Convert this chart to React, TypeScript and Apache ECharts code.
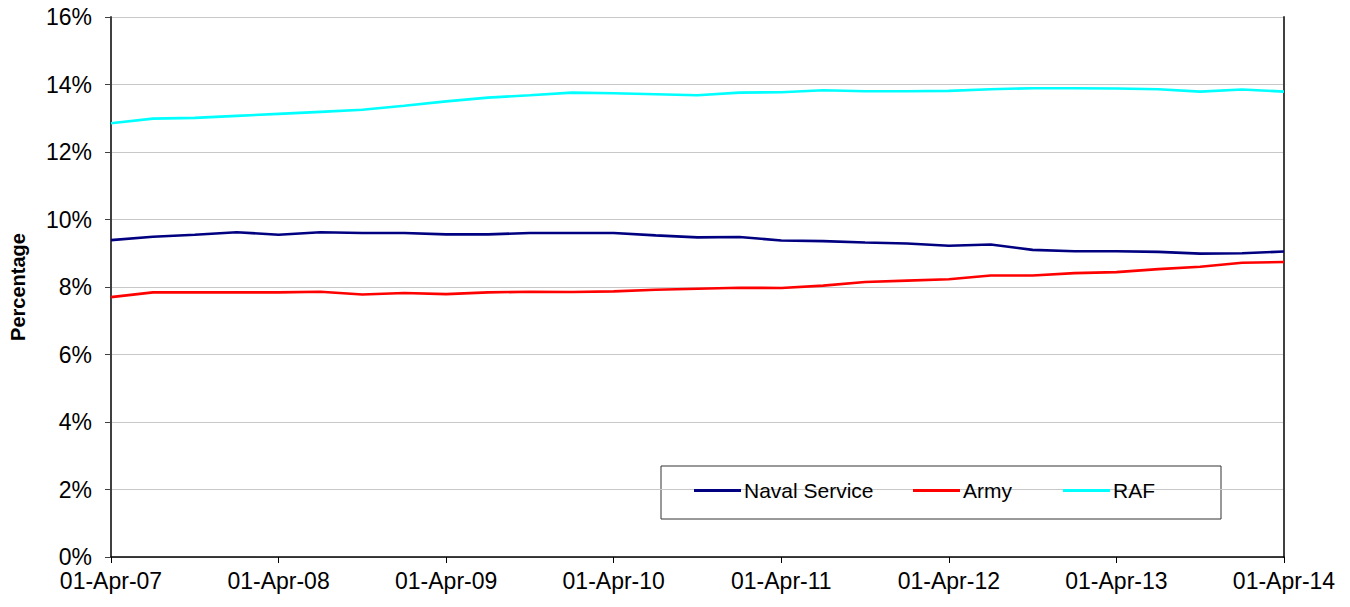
import React, { useEffect, useRef } from "react";
import * as echarts from "echarts";

const quarters = [
  "01-Apr-07", "01-Jul-07", "01-Oct-07", "01-Jan-08",
  "01-Apr-08", "01-Jul-08", "01-Oct-08", "01-Jan-09",
  "01-Apr-09", "01-Jul-09", "01-Oct-09", "01-Jan-10",
  "01-Apr-10", "01-Jul-10", "01-Oct-10", "01-Jan-11",
  "01-Apr-11", "01-Jul-11", "01-Oct-11", "01-Jan-12",
  "01-Apr-12", "01-Jul-12", "01-Oct-12", "01-Jan-13",
  "01-Apr-13", "01-Jul-13", "01-Oct-13", "01-Jan-14",
  "01-Apr-14",
];

const navalService = [
  9.39, 9.49, 9.55, 9.62, 9.55, 9.62, 9.6, 9.6, 9.56, 9.56,
  9.6, 9.6, 9.6, 9.53, 9.47, 9.48, 9.38, 9.36, 9.32, 9.29,
  9.22, 9.26, 9.1, 9.06, 9.06, 9.04, 8.99, 9.0, 9.05,
];

const army = [
  7.7, 7.84, 7.84, 7.84, 7.84, 7.86, 7.78, 7.82, 7.79, 7.84,
  7.86, 7.85, 7.87, 7.92, 7.95, 7.98, 7.97, 8.04, 8.15, 8.19,
  8.23, 8.34, 8.34, 8.41, 8.44, 8.53, 8.6, 8.72, 8.74,
];

const raf = [
  12.85, 12.99, 13.01, 13.07, 13.13, 13.19, 13.25, 13.37, 13.5, 13.61,
  13.68, 13.76, 13.74, 13.71, 13.68, 13.76, 13.77, 13.83, 13.8, 13.8,
  13.81, 13.86, 13.89, 13.89, 13.88, 13.86, 13.79, 13.85, 13.79,
];

const seriesNames = ["Naval Service", "Army", "RAF"];
const seriesColors = ["#000080", "#ff0000", "#00ffff"];

const FONT = "'Liberation Sans', Arial, sans-serif";

export default function App() {
  const ref = useRef<HTMLDivElement>(null);

  useEffect(() => {
    if (!ref.current) return;
    const chart = echarts.init(ref.current, null, { renderer: "svg" });
    const values = [navalService, army, raf];
    const legendLefts = [694, 913, 1063];

    chart.setOption({
      animation: false,
      backgroundColor: "#ffffff",
      textStyle: { fontFamily: FONT },
      grid: { left: 108, right: 66, top: 17, bottom: 50, containLabel: false },
      xAxis: {
        type: "category",
        data: quarters,
        boundaryGap: false,
        axisLine: { show: true, lineStyle: { color: "#000000", width: 1.5 } },
        axisTick: { show: true, interval: 3, length: 6, lineStyle: { color: "#000000" } },
        axisLabel: {
          interval: 3,
          margin: 12,
          fontSize: 23,
          color: "#000000",
          fontFamily: FONT,
        },
        splitLine: { show: false },
      },
      yAxis: [
        {
          type: "value",
          min: 0,
          max: 16,
          interval: 2,
          name: "Percentage",
          nameLocation: "middle",
          nameGap: 83,
          nameRotate: 90,
          nameTextStyle: { fontSize: 20, fontWeight: "bold", color: "#000000", fontFamily: FONT },
          axisLine: { show: true, lineStyle: { color: "#404040", width: 2 } },
          axisTick: { show: true, length: 6, lineStyle: { color: "#404040" } },
          axisLabel: {
            formatter: (v: number) => v + "%",
            margin: 19,
            fontSize: 23,
            color: "#000000",
            fontFamily: FONT,
          },
          splitLine: { show: true, lineStyle: { color: "#c8c8c8", width: 1 } },
        },
        {
          type: "value",
          min: 0,
          max: 16,
          interval: 2,
          position: "right",
          axisLine: { show: true, lineStyle: { color: "#404040", width: 2 } },
          axisTick: { show: false },
          axisLabel: { show: false },
          splitLine: { show: false },
        },
      ],
      legend: seriesNames.map((n, i) => ({
        data: [n],
        left: legendLefts[i],
        top: 480,
        icon: "rect",
        itemWidth: 47,
        itemHeight: 3,
        itemGap: 0,
        padding: 0,
        textStyle: { fontSize: 21, color: "#000000", fontFamily: FONT, padding: [0, 0, 0, -2] },
      })),
      graphic: [
        {
          type: "rect",
          shape: { x: 661, y: 466, width: 560, height: 53 },
          style: { fill: "#ffffff", stroke: "#333333", lineWidth: 1 },
          z: -1,
        },
      ],
      series: values.map((d, i) => ({
        name: seriesNames[i],
        type: "line",
        data: d,
        symbol: "none",
        smooth: false,
        lineStyle: { color: seriesColors[i], width: 2.6 },
        itemStyle: { color: seriesColors[i] },
        z: 3,
      })),
    });

    return () => chart.dispose();
  }, []);

  return <div ref={ref} style={{ width: 1350, height: 607, position: "absolute", left: 0, top: 0 }} />;
}
